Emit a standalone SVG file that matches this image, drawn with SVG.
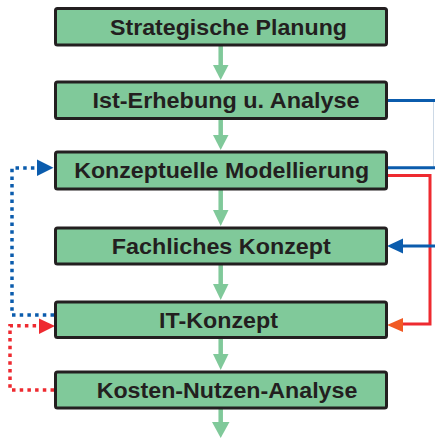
<svg xmlns="http://www.w3.org/2000/svg" width="435" height="438" viewBox="0 0 435 438">
<style>
.box{fill:#80c99a;stroke:#231f20;stroke-width:3}
.lbl{font-family:"Liberation Sans",Arial,sans-serif;font-weight:bold;font-size:21.5px;fill:#231f20;text-anchor:middle}
.gs{stroke:#80c99a;stroke-width:4.5;fill:none}
.gh{fill:#80c99a}
.bl{stroke:#0b5cad;stroke-width:3;fill:none}
.rd{stroke:#ee2a30;stroke-width:3;fill:none}
.bd{stroke:#0b5cad;stroke-width:3.5;stroke-dasharray:3.5 4.2;fill:none}
.rdd{stroke:#ee2a30;stroke-width:3.5;stroke-dasharray:3.5 4.2;fill:none}
</style>
<rect width="435" height="438" fill="#ffffff"/>
<g id="connectors">
<line class="gs" x1="220.7" y1="46" x2="220.7" y2="67"/><polygon class="gh" points="213,65 228.5,65 220.7,80"/>
<line class="gs" x1="220.7" y1="119" x2="220.7" y2="137"/><polygon class="gh" points="213,135 228.5,135 220.7,150"/>
<line class="gs" x1="220.7" y1="190" x2="220.7" y2="212"/><polygon class="gh" points="213,210 228.5,210 220.7,226"/>
<line class="gs" x1="220.7" y1="265" x2="220.7" y2="286"/><polygon class="gh" points="213,284 228.5,284 220.7,300"/>
<line class="gs" x1="220.7" y1="338" x2="220.7" y2="356"/><polygon class="gh" points="213,354 228.5,354 220.7,370"/>
<line class="gs" x1="220.7" y1="409" x2="220.7" y2="424"/><polygon class="gh" points="212,422 229.5,422 220.7,438"/>
<line x1="433.5" y1="100" x2="433.5" y2="168" stroke="#cdd9e6" stroke-width="1"/>
<line class="bl" x1="388" y1="100.5" x2="435" y2="100.5"/>
<line class="bl" x1="388" y1="167.7" x2="435" y2="167.7"/>
<path class="rd" d="M388,175.5 H430 V324 H402"/>
<polygon fill="#f15a24" points="387,325 403,318 403,332"/>
<line class="bl" x1="402" y1="246" x2="435" y2="246"/>
<polygon fill="#0b5cad" points="387,246 403,238.5 403,253.5"/>
<path class="bd" d="M54,315 H12 V168 H38"/>
<polygon fill="#0b5cad" points="37,159.5 53.5,167.7 37,176"/>
<path class="rdd" d="M54,390 H10 V325.7 H40"/>
<polygon fill="#ee2a30" points="39,318.5 55,326 39,334"/>
</g>
<g id="n1"><rect class="box" x="55.5" y="8.5" width="331" height="36.5" rx="2"/><text class="lbl" x="228.5" y="35" textLength="237" lengthAdjust="spacingAndGlyphs">Strategische Planung</text></g>
<g id="n2"><rect class="box" x="55.5" y="82" width="331" height="36.5" rx="2"/><text class="lbl" x="226" y="107.5" textLength="267" lengthAdjust="spacingAndGlyphs">Ist-Erhebung u. Analyse</text></g>
<g id="n3"><rect class="box" x="55.5" y="152" width="331" height="37" rx="2"/><text class="lbl" x="221.7" y="178" textLength="295" lengthAdjust="spacingAndGlyphs">Konzeptuelle Modellierung</text></g>
<g id="n4"><rect class="box" x="55.5" y="228" width="331" height="36" rx="2"/><text class="lbl" x="221.3" y="253.5" textLength="219" lengthAdjust="spacingAndGlyphs">Fachliches Konzept</text></g>
<g id="n5"><rect class="box" x="55.5" y="302" width="331" height="35.5" rx="2"/><text class="lbl" x="218.5" y="328" textLength="119" lengthAdjust="spacingAndGlyphs">IT-Konzept</text></g>
<g id="n6"><rect class="box" x="55.5" y="372" width="331" height="36" rx="2"/><text class="lbl" x="227" y="397.5" textLength="260.7" lengthAdjust="spacingAndGlyphs">Kosten-Nutzen-Analyse</text></g>
</svg>
